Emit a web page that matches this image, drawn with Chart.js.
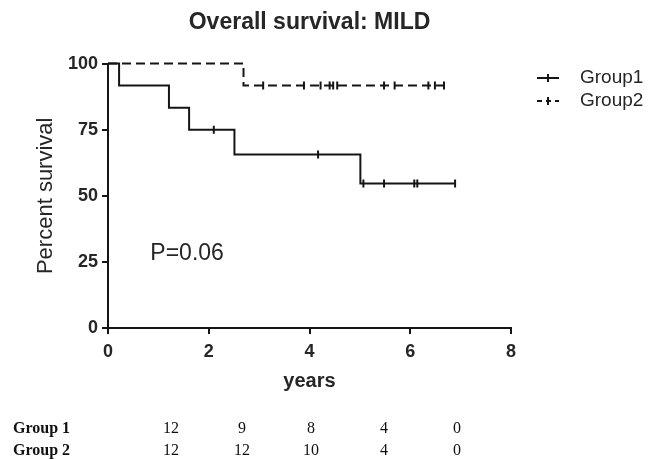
<!DOCTYPE html>
<html>
<head>
<meta charset="utf-8">
<script src="https://cdn.jsdelivr.net/npm/chart.js@4.4.1/dist/chart.umd.min.js"></script>
<style>
  html, body { margin: 0; padding: 0; background: #fff; }
  #wrap { position: relative; width: 665px; height: 459px; overflow: hidden; }
  #chart { position: absolute; left: 0; top: 0; }
  .risk {
    position: absolute;
    font-family: "Liberation Serif", "Times New Roman", serif;
    font-size: 16px;
    line-height: 18px;
    color: #111;
    white-space: nowrap;
  }
  .risk.name { font-weight: bold; }
  .risk.num { transform: translateX(-50%); }
</style>
</head>
<body>
<div id="wrap">
  <canvas id="chart" width="665" height="459"></canvas>
  <div id="riskTable"></div>
</div>
<script>
/* DATA */
// GROUP 1 (solid) - survival after each event
const g1StepYears = [0, 0.22, 1.21, 1.61, 2.51, 5.01, 6.89];
const g1StepSurv = [100, 91.67, 83.33, 75, 65.63, 54.69, 54.69];
// GROUP 1 censored subjects
const g1CensYears = [2.1, 4.17, 5.07, 5.48, 6.08, 6.14, 6.89];
const g1CensSurv = [75, 65.63, 54.69, 54.69, 54.69, 54.69, 54.69];
// GROUP 2 (dashed)
const g2StepYears = [0, 2.69, 6.67];
const g2StepSurv = [100, 91.67, 91.67];
const g2CensYears = [3.08, 3.89, 4.22, 4.4, 4.47, 4.55, 5.48, 5.69, 6.36, 6.49, 6.67];
const g2CensSurv = [91.67, 91.67, 91.67, 91.67, 91.67, 91.67, 91.67, 91.67, 91.67, 91.67, 91.67];
// AXES
const xTicks = [0, 2, 4, 6, 8];
const yTicks = [0, 25, 50, 75, 100];
// NUMBER AT RISK
const riskNames = ["Group 1", "Group 2"];
const riskG1 = [12, 9, 8, 4, 0];
const riskG2 = [12, 12, 10, 4, 0];
const pValueText = "P=0.06";

const ink = "#151515";
const textInk = "#262626";
const sans = "'Liberation Sans', Arial, Helvetica, sans-serif";

function toPoints(xs, ys) {
  return xs.map((x, i) => ({ x: x, y: ys[i] }));
}

// legend drawn next to the plot, like the prism export
const kmLegend = {
  id: "kmLegend",
  afterDraw(chart) {
    const ctx = chart.ctx;
    const left = chart.chartArea.right + 26;
    const items = [
      { label: chart.data.datasets[0].label, dash: [] },
      { label: chart.data.datasets[2].label, dash: [5, 4] },
    ];
    items.forEach((item, i) => {
      const y = 78 + i * 23;
      ctx.save();
      ctx.strokeStyle = ink;
      ctx.lineWidth = 2;
      ctx.setLineDash(item.dash);
      ctx.beginPath();
      ctx.moveTo(left, y);
      ctx.lineTo(left + 22, y);
      ctx.stroke();
      ctx.setLineDash([]);
      ctx.beginPath();
      ctx.moveTo(left + 11, y - 4);
      ctx.lineTo(left + 11, y + 4);
      ctx.stroke();
      ctx.fillStyle = textInk;
      ctx.font = "19px " + sans;
      ctx.textBaseline = "middle";
      ctx.fillText(item.label, left + 43, y);
      ctx.restore();
    });
  },
};

// p-value annotation inside the plot
const pLabel = {
  id: "pLabel",
  afterDraw(chart) {
    const ctx = chart.ctx;
    const x = chart.scales.x.getPixelForValue(0.84);
    const y = chart.scales.y.getPixelForValue(28);
    ctx.save();
    ctx.fillStyle = textInk;
    ctx.font = "23px " + sans;
    ctx.textBaseline = "middle";
    ctx.fillText(pValueText, x, y);
    ctx.restore();
  },
};

const censorStyle = {
  type: "scatter",
  pointStyle: "line",
  rotation: 90,
  pointRadius: 4,
  borderWidth: 2,
  borderColor: ink,
  backgroundColor: ink,
  clip: 6,
};

const chart = new Chart(document.getElementById("chart"), {
  type: "line",
  data: {
    datasets: [
      {
        label: "Group1",
        data: toPoints(g1StepYears, g1StepSurv),
        stepped: "before",
        borderColor: ink,
        borderWidth: 2,
        pointRadius: 0,
        clip: 6,
      },
      Object.assign({ label: "g1cens", data: toPoints(g1CensYears, g1CensSurv) }, censorStyle),
      {
        label: "Group2",
        data: toPoints(g2StepYears, g2StepSurv),
        stepped: "before",
        borderColor: ink,
        borderWidth: 2,
        borderDash: [9, 5],
        pointRadius: 0,
        clip: 6,
      },
      Object.assign({ label: "g2cens", data: toPoints(g2CensYears, g2CensSurv) }, censorStyle),
    ],
  },
  options: {
    responsive: false,
    animation: false,
    layout: { padding: { left: 0, right: 154, top: 0, bottom: 61 } },
    plugins: {
      legend: { display: false },
      tooltip: { enabled: false },
      title: {
        display: true,
        fullSize: false,
        text: "Overall survival: MILD",
        color: textInk,
        font: { family: sans, size: 23, weight: "bold" },
        padding: { top: 9, bottom: 27 },
        align: "center",
      },
    },
    scales: {
      x: {
        type: "linear",
        min: 0,
        max: 8,
        afterBuildTicks: (axis) => {
          axis.ticks = xTicks.map((v) => ({ value: v }));
        },
        afterFit: (axis) => {
          axis.height = 70;
        },
        border: { display: true, color: ink, width: 2 },
        grid: { drawOnChartArea: false, drawTicks: true, tickLength: 6, color: ink, lineWidth: 2 },
        ticks: { color: textInk, padding: 7, font: { family: sans, size: 18, weight: "bold" } },
        title: {
          display: true,
          text: "years",
          color: textInk,
          padding: { top: 0, bottom: 5 },
          font: { family: sans, size: 20, weight: "bold" },
        },
      },
      y: {
        type: "linear",
        min: 0,
        max: 100,
        afterBuildTicks: (axis) => {
          axis.ticks = yTicks.map((v) => ({ value: v }));
        },
        afterFit: (axis) => {
          axis.width = 108;
        },
        border: { display: true, color: ink, width: 2 },
        grid: { drawOnChartArea: false, drawTicks: true, tickLength: 6, color: ink, lineWidth: 2 },
        ticks: { color: textInk, padding: 4, font: { family: sans, size: 18, weight: "bold" } },
        title: {
          display: true,
          text: "Percent survival",
          color: textInk,
          padding: { top: 33, bottom: 0 },
          font: { family: sans, size: 22 },
        },
      },
    },
  },
  plugins: [kmLegend, pLabel],
});

/* NUMBER AT RISK TABLE */
const riskTableEl = document.getElementById("riskTable");
const riskColX = [171, 242, 311, 384, 457];
const riskRowY = [419, 441];
[riskG1, riskG2].forEach((row, r) => {
  const nameEl = document.createElement("div");
  nameEl.className = "risk name";
  nameEl.style.left = "13px";
  nameEl.style.top = riskRowY[r] + "px";
  nameEl.innerText = riskNames[r];
  riskTableEl.appendChild(nameEl);
  row.forEach((n, c) => {
    const numEl = document.createElement("div");
    numEl.className = "risk num";
    numEl.style.left = riskColX[c] + "px";
    numEl.style.top = riskRowY[r] + "px";
    numEl.innerText = n;
    riskTableEl.appendChild(numEl);
  });
});
</script>
</body>
</html>
